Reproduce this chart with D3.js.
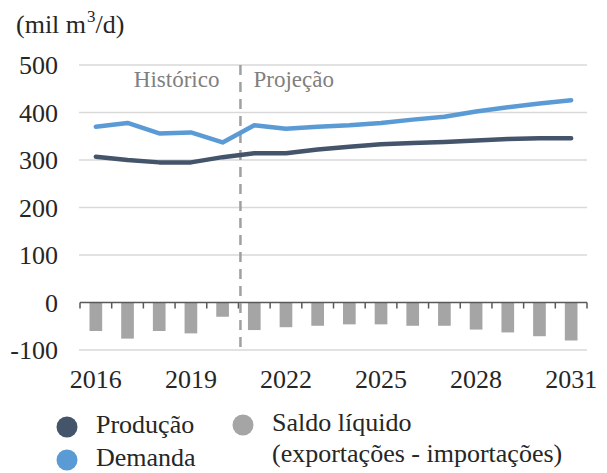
<!DOCTYPE html>
<html>
<head>
<meta charset="utf-8">
<script src="https://cdn.jsdelivr.net/npm/d3@7"></script>
<style>
  html, body { margin: 0; padding: 0; background: #fff; }
  svg { display: block; font-family: "Liberation Serif", "DejaVu Serif", serif; }
</style>
</head>
<body>
<svg id="chart" width="607" height="473"></svg>
<script>
// Gas balance: production, demand and net balance (mil m³/d)
const years = [2016, 2017, 2018, 2019, 2020, 2021, 2022, 2023, 2024, 2025, 2026, 2027, 2028, 2029, 2030, 2031];
const producao = [307, 300, 295, 295, 306, 314, 314, 322, 328, 333, 336, 338, 341, 344, 346, 346];
const demanda = [370, 378, 356, 358, 337, 373, 366, 370, 373, 378, 385, 391, 402, 411, 419, 426];
const saldo = [-60, -76, -60, -65, -30, -58, -52, -49, -46, -46, -49, -49, -57, -63, -71, -80];
const yTicks = [-100, 0, 100, 200, 300, 400, 500];
const xLabelYears = [2016, 2019, 2022, 2025, 2028, 2031];
const lastHistoricYear = 2020;

const svg = d3.select("#chart");
const plotLeft = 80, plotRight = 587, plotTop = 65, plotBottom = 350;

const x = d3.scaleBand().domain(years).range([plotLeft, plotRight]).padding(0);
const y = d3.scaleLinear().domain([-100, 500]).range([plotBottom, plotTop]);
const cx = d => x(d) + x.bandwidth() / 2;

// Gridlines
svg.append("g")
  .selectAll("line")
  .data(yTicks.filter(t => t !== 0))
  .join("line")
  .attr("x1", plotLeft - 1).attr("x2", plotRight)
  .attr("y1", d => y(d)).attr("y2", d => y(d))
  .attr("stroke", "#d9d9d9").attr("stroke-width", 1.5);

// Y axis labels (plain hyphen for negatives)
const yAxis = d3.axisLeft(y).tickValues(yTicks).tickSize(0).tickPadding(0)
  .tickFormat(d => String(d));
const gy = svg.append("g").attr("transform", `translate(${plotLeft - 22},0)`).call(yAxis);
gy.select(".domain").remove();
gy.selectAll("text")
  .attr("font-size", 26).attr("fill", "#262626")
  .attr("font-family", "Liberation Serif").attr("dy", "0.34em");

// Net balance bars
const barW = x.bandwidth() * 0.4;
svg.append("g")
  .selectAll("rect")
  .data(years.map((yr, i) => ({ yr, v: saldo[i] })))
  .join("rect")
  .attr("x", d => cx(d.yr) - barW / 2)
  .attr("width", barW)
  .attr("y", d => y(Math.max(0, d.v)))
  .attr("height", d => Math.abs(y(d.v) - y(0)))
  .attr("fill", "#a5a5a5");

// Zero axis with category boundary ticks
const gx = svg.append("g").attr("transform", `translate(0,${y(0)})`);
gx.append("line")
  .attr("x1", plotLeft).attr("x2", plotRight)
  .attr("stroke", "#595959").attr("stroke-width", 1.5);
const bounds = years.map(d => x(d)).concat([x(years[years.length - 1]) + x.bandwidth()]);
gx.selectAll("line.tick")
  .data(bounds)
  .join("line")
  .attr("class", "tick")
  .attr("x1", d => d).attr("x2", d => d)
  .attr("y1", 0).attr("y2", 6)
  .attr("stroke", "#595959").attr("stroke-width", 1.5);

// X labels
svg.append("g")
  .selectAll("text")
  .data(xLabelYears)
  .join("text")
  .attr("x", d => cx(d))
  .attr("y", 388)
  .attr("text-anchor", "middle")
  .attr("font-size", 26).attr("fill", "#262626")
  .text(d => d);

// Historic / projection divider
const divX = x(lastHistoricYear) + x.bandwidth() + 2;
svg.append("line")
  .attr("x1", divX).attr("x2", divX)
  .attr("y1", plotTop).attr("y2", plotBottom)
  .attr("stroke", "#a0a0a0").attr("stroke-width", 2.5)
  .attr("stroke-dasharray", "10,7");

svg.append("text")
  .attr("x", divX - 21).attr("y", 87)
  .attr("text-anchor", "end")
  .attr("font-size", 23).attr("fill", "#808080")
  .text("Histórico");
svg.append("text")
  .attr("x", divX + 13).attr("y", 87)
  .attr("font-size", 23).attr("fill", "#808080")
  .text("Projeção");

// Lines
const line = d3.line().x(d => cx(d.yr)).y(d => y(d.v));
svg.append("path")
  .datum(years.map((yr, i) => ({ yr, v: producao[i] })))
  .attr("d", line)
  .attr("fill", "none").attr("stroke", "#44546a").attr("stroke-width", 4.5)
  .attr("stroke-linecap", "round").attr("stroke-linejoin", "round");
svg.append("path")
  .datum(years.map((yr, i) => ({ yr, v: demanda[i] })))
  .attr("d", line)
  .attr("fill", "none").attr("stroke", "#5b9bd5").attr("stroke-width", 4.5)
  .attr("stroke-linecap", "round").attr("stroke-linejoin", "round");

// Unit label
const title = svg.append("text").attr("x", 16).attr("y", 33)
  .attr("font-size", 26).attr("fill", "#262626");
title.append("tspan").text("(mil m");
title.append("tspan").attr("font-size", 17).attr("dy", -11).attr("dx", 1).text("3");
title.append("tspan").attr("dy", 11).text("/d)");

// Legend
const legend = [
  { label: ["Produção"], color: "#44546a", x: 67, y: 427 },
  { label: ["Demanda"], color: "#5b9bd5", x: 67, y: 460 },
  { label: ["Saldo líquido", "(exportações - importações)"], color: "#a5a5a5", x: 243, y: 425 }
];
const lg = svg.append("g");
legend.forEach(item => {
  lg.append("circle").attr("cx", item.x).attr("cy", item.y).attr("r", 10.5).attr("fill", item.color);
  const t = lg.append("text")
    .attr("y", item.y + 6)
    .attr("font-size", 26).attr("fill", "#262626");
  item.label.forEach((s, i) => {
    t.append("tspan").attr("x", item.x + 29).attr("dy", i === 0 ? 0 : 31).text(s);
  });
});
</script>
</body>
</html>
